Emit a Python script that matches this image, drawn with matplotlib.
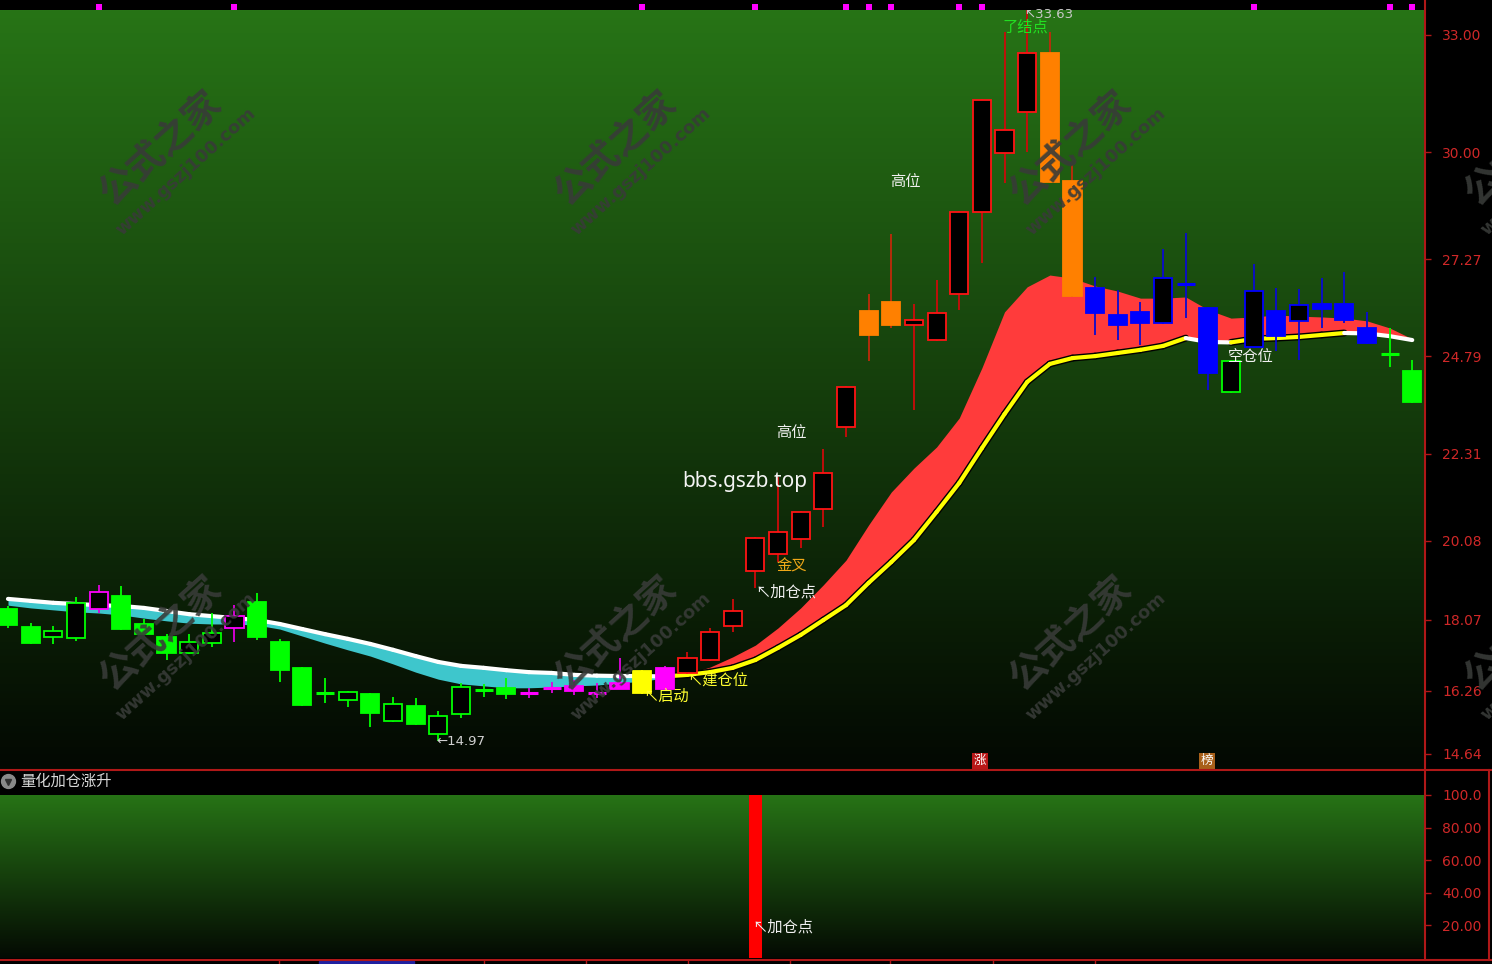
import numpy as np
import matplotlib
matplotlib.use('Agg')
import matplotlib.pyplot as plt
import matplotlib.transforms as mtransforms
from matplotlib.patches import Rectangle
from matplotlib.collections import LineCollection
from matplotlib.lines import Line2D

plt.rcParams['font.family'] = ['Noto Sans CJK SC', 'DejaVu Sans']

# daily candles (63 bars)
opens = [18.34, 17.88, 17.63, 17.60, 18.34, 18.67, 17.97, 17.63, 17.22, 17.47,
         17.86, 18.52, 17.50, 16.84, 16.20, 16.02, 16.17, 15.48, 15.87, 15.15,
         15.66, 16.27, 16.32, 16.20, 16.32, 16.38, 16.20, 16.45, 16.76, 16.84,
         16.71, 17.04, 17.91, 19.31, 19.75, 20.13, 20.90, 22.99, 25.95, 26.18,
         25.59, 25.21, 26.39, 28.48, 29.99, 31.03, 32.54, 29.27, 26.54, 25.85,
         25.93, 25.65, 26.64, 26.03, 23.88, 25.03, 25.95, 25.70, 26.13, 26.13,
         25.52, 24.85, 24.42]
highs = [18.42, 17.99, 17.91, 18.65, 18.96, 18.93, 18.09, 17.70, 17.70, 18.24,
         18.44, 18.75, 17.58, 16.86, 16.58, 16.25, 16.19, 16.10, 16.07, 15.74,
         16.45, 16.43, 16.58, 16.32, 16.48, 16.53, 16.45, 17.09, 16.78, 16.89,
         17.24, 17.86, 18.60, 20.18, 21.71, 20.84, 22.43, 24.03, 26.39, 27.92,
         26.13, 26.74, 28.50, 31.36, 33.08, 33.63, 33.08, 29.68, 26.82, 26.49,
         26.18, 27.54, 27.94, 26.05, 24.70, 27.15, 26.54, 26.51, 26.79, 26.95,
         25.93, 25.52, 24.70]
lows = [17.86, 17.45, 17.45, 17.53, 18.24, 17.80, 17.68, 17.04, 17.20, 17.37,
        17.50, 17.55, 16.48, 15.87, 15.94, 15.84, 15.33, 15.46, 15.39, 14.97,
        15.56, 16.10, 16.04, 16.07, 16.20, 16.15, 16.07, 16.30, 16.18, 16.28,
        16.69, 17.02, 17.76, 18.88, 19.54, 19.90, 20.44, 22.73, 24.68, 25.52,
        23.42, 25.19, 25.98, 27.18, 29.22, 30.01, 29.23, 26.31, 25.34, 25.21,
        25.08, 25.63, 25.77, 23.93, 23.86, 25.01, 24.93, 24.70, 25.52, 25.65,
        25.11, 24.52, 23.61]
closes = [17.93, 17.47, 17.78, 18.50, 18.78, 17.83, 17.70, 17.22, 17.50, 17.73,
          18.16, 17.63, 16.78, 15.89, 16.19, 16.22, 15.69, 15.92, 15.41, 15.61,
          16.35, 16.28, 16.17, 16.21, 16.33, 16.25, 16.21, 16.30, 16.20, 16.30,
          17.09, 17.76, 18.29, 20.16, 20.31, 20.82, 21.81, 24.01, 25.34, 25.59,
          25.72, 25.90, 28.48, 31.34, 30.57, 32.54, 29.25, 26.33, 25.90, 25.59,
          25.65, 26.79, 26.65, 24.37, 24.68, 26.46, 25.31, 26.11, 26.00, 25.72,
          25.13, 24.86, 23.63]
tones = (['down'] * 4 + ['alert'] + ['down'] * 5 + ['alert'] + ['down'] * 12 +
         ['alert'] * 5 + ['start', 'alert'] + ['up'] * 8 + ['hot'] * 2 +
         ['up'] * 6 + ['hot'] * 2 + ['weak'] * 6 + ['down'] + ['weak'] * 6 +
         ['down'] * 2)

# trend ribbon: slow line and fast line
slow_line = [18.60, 18.55, 18.50, 18.47, 18.44, 18.42, 18.37, 18.29, 18.21, 18.16,
             18.11, 18.06, 17.96, 17.83, 17.70, 17.58, 17.45, 17.30, 17.14, 16.99,
             16.89, 16.84, 16.78, 16.73, 16.71, 16.66, 16.64, 16.63, 16.63, 16.62,
             16.66, 16.73, 16.84, 17.04, 17.35, 17.68, 18.06, 18.44, 19.01, 19.54,
             20.10, 20.82, 21.56, 22.45, 23.32, 24.14, 24.60, 24.75, 24.80, 24.88,
             24.96, 25.06, 25.26, 25.16, 25.15, 25.24, 25.26, 25.29, 25.34, 25.39,
             25.38, 25.31, 25.21]
fast_line = [18.44, 18.37, 18.32, 18.27, 18.24, 18.19, 18.11, 18.04, 17.98, 17.96,
             17.96, 17.93, 17.83, 17.65, 17.47, 17.30, 17.14, 16.94, 16.73, 16.55,
             16.43, 16.38, 16.33, 16.33, 16.35, 16.38, 16.40, 16.45, 16.50, 16.58,
             16.68, 16.86, 17.12, 17.42, 17.86, 18.37, 18.96, 19.59, 20.49, 21.33,
             21.94, 22.48, 23.22, 24.50, 25.93, 26.57, 26.87, 26.79, 26.59, 26.46,
             26.28, 26.28, 26.31, 25.98, 25.77, 25.80, 25.85, 25.82, 25.80, 25.77,
             25.70, 25.52, 25.24]

price_ticks = [14.64, 16.26, 18.07, 20.08, 22.31, 24.79, 27.27, 30.00, 33.00]
signal_ticks = [20, 40, 60, 80, 100]
signal_labels = ['20.00', '40.00', '60.00', '80.00', '100.0']

# lower panel: 量化加仓涨升 signal bars
add_idx = [33]
add_val = [100]

# magenta flags along the top edge
top_marks = [4, 10, 28, 33, 37, 38, 39, 42, 43, 55, 61, 62]

tone_color = {'down': '#00ff00', 'alert': '#ff00ff', 'start': '#ffff00',
              'up': '#ff1414', 'hot': '#ff8000', 'weak': '#0000ff'}
wick_color = {'down': '#00ff00', 'alert': '#e000e0', 'start': '#ffff00',
              'up': '#cc0a0a', 'hot': '#c02a0a', 'weak': '#0a0ad0'}

W, H = 1492, 964
fig = plt.figure(figsize=(W / 100, H / 100), dpi=100, facecolor='black')


def fx(px):
    return px / W


def fy(py):
    return 1 - py / H


ax = fig.add_axes([0, fy(770), fx(1424), (770 - 10) / H])
ax2 = fig.add_axes([0, fy(958), fx(1424), (958 - 795) / H])


def gradient(a, top, bottom):
    g = np.linspace(0, 1, 256)[:, None, None]
    img = np.array(top)[None, None, :] * (1 - g) + np.array(bottom)[None, None, :] * g
    a.imshow(img / 255, extent=[0, 1, 0, 1], transform=a.transAxes,
             aspect='auto', zorder=0, interpolation='bilinear')


gradient(ax, (39, 116, 22), (3, 8, 2))
gradient(ax2, (39, 116, 22), (4, 10, 3))

n = len(opens)
x = np.arange(n)
slow = np.array(slow_line)
fast = np.array(fast_line)

# ribbon fills
ax.fill_between(x, slow, fast, where=fast <= slow, interpolate=True,
                color='#3ec6cc', lw=0, zorder=1)
ax.fill_between(x, slow, fast, where=fast >= slow, interpolate=True,
                color='#ff3b3b', lw=0, zorder=1)

pts = np.column_stack([x, slow])
segs = [pts[i:i + 2] for i in range(n - 1)]
rising = np.diff(slow) > 0
ax.add_collection(LineCollection([s for s, r in zip(segs, rising) if r],
                                 colors='black', lw=5, capstyle='round', zorder=2))
ax.add_collection(LineCollection(segs, colors=['#ffff00' if r else '#ffffff' for r in rising],
                                 lw=3, capstyle='round', zorder=2))

# candles
for i, (o, h, l, c, t) in enumerate(zip(opens, highs, lows, closes, tones)):
    col = tone_color[t]
    ax.vlines(i, l, h, color=wick_color[t], lw=1.3, zorder=3)
    if abs(c - o) < 0.03:
        ax.hlines((o + c) / 2, i - 0.4, i + 0.4, color=col, lw=2.2, zorder=4)
    else:
        face = col if c < o else 'black'
        ax.add_patch(Rectangle((i - 0.4, min(o, c)), 0.8, abs(c - o),
                               facecolor=face, edgecolor=col, lw=1.3, zorder=4))

blend = mtransforms.blended_transform_factory(ax.transData, ax.transAxes)
ax.scatter(top_marks, [1.004] * len(top_marks), marker='s', s=14, color='#ff00ff',
           transform=blend, clip_on=False, zorder=5, lw=0)

# annotations
ax.text(39.6, 29.27, '高位', color='#f0f0f0', fontsize=11, ha='center', va='center', zorder=6)
ax.text(34.57, 22.84, '高位', color='#f0f0f0', fontsize=11, ha='center', va='center', zorder=6)
ax.text(32.54, 21.61, 'bbs.gszb.top', color='#f4f4f4', fontsize=15, ha='center', va='center',
        family=['Noto Sans', 'DejaVu Sans'], zorder=6)
ax.text(34.61, 19.44, '金叉', color='#f0a818', fontsize=11, ha='center', va='center', zorder=6)
ax.text(32.98, lows[33] - 0.1, '↖加仓点', color='#f0f0f0', fontsize=11, ha='left', va='center', zorder=6)
ax.text(30.0, 16.53, '↖建仓位', color='#ffff30', fontsize=11, ha='left', va='center', zorder=6)
ax.text(28.04, lows[28] - 0.06, '↖启动', color='#ffff30', fontsize=11, ha='left', va='center', zorder=6)
ax.text(18.9, lows[19], '←%.2f' % lows[19], color='#d0d0d0', fontsize=9.5, ha='left', va='center',
        family=['DejaVu Sans'], zorder=6)
ax.text(54.88, 24.80, '空仓位', color='#f0f0f0', fontsize=11, ha='center', va='center', zorder=6)
ax.text(44.86, highs[45] - 0.1, '↖%.2f' % highs[45], color='#c8c8c8', fontsize=9.5, ha='left',
        va='center', family=['DejaVu Sans'], zorder=6)
ax.text(44.94, 33.2, '了结点', color='#22e022', fontsize=11, ha='center', va='center', zorder=6)
ax.text(42.91, 14.47, '涨', color='white', fontsize=9, ha='center', va='center', zorder=6,
        bbox=dict(boxstyle='square,pad=0.12', fc='#b81818', ec='none'))
ax.text(52.94, 14.47, '榜', color='white', fontsize=9, ha='center', va='center', zorder=6,
        bbox=dict(boxstyle='square,pad=0.12', fc='#a8601a', ec='none'))

xlim = (-0.353, 62.52)
ax.set_xlim(*xlim)
ax.set_ylim(14.231, 33.638)

# lower panel
ax2.bar(add_idx, add_val, width=0.57, color='#ff0000', zorder=3)
ax2.text(32.85, 19, '↖加仓点', color='#f0f0f0', fontsize=11, ha='left', va='center', zorder=6)
ax2.set_xlim(*xlim)
ax2.set_ylim(0, 100)

for a, ticks, labels in [(ax, price_ticks, ['%.2f' % v for v in price_ticks]),
                         (ax2, signal_ticks, signal_labels)]:
    a.set_xticks([])
    a.yaxis.tick_right()
    a.set_yticks(ticks)
    a.set_yticklabels(labels)
    a.tick_params(axis='y', color='#b01818', labelcolor='#d02828', length=5, width=1,
                  pad=8, labelsize=10, direction='out')
    for lab in a.get_yticklabels():
        lab.set_fontfamily('DejaVu Sans')
    for sp in a.spines.values():
        sp.set_visible(False)

# frame lines
line_kw = dict(color='#b01818', lw=1.5, transform=fig.transFigure)
fig.add_artist(Line2D([0, 1], [fy(770), fy(770)], **line_kw))
fig.add_artist(Line2D([0, 1], [fy(960), fy(960)], **line_kw))
fig.add_artist(Line2D([fx(1425), fx(1425)], [fy(0), fy(960)], **line_kw))
fig.add_artist(Line2D([fx(1489), fx(1489)], [fy(770), fy(960)], **line_kw))
fig.add_artist(Rectangle((fx(319), 0), fx(95), 3 / H, color='#2020a0', transform=fig.transFigure))
for bx in [279, 484, 586, 688, 790, 890, 993, 1095]:
    fig.add_artist(Line2D([fx(bx), fx(bx)], [0, 3 / H], color='#b01818', lw=1,
                          transform=fig.transFigure))

# lower panel header
fig.add_artist(Line2D([fx(8)], [fy(781)], marker='o', ms=10, color='#8a8a8a', lw=0,
                      transform=fig.transFigure))
fig.add_artist(Line2D([fx(8)], [fy(782)], marker='v', ms=4, color='#303030', lw=0,
                      transform=fig.transFigure))
fig.text(fx(20), fy(781), '量化加仓涨升', color='#d8d8d8', fontsize=11, ha='left', va='center')

# watermarks
for dx in [0, 455, 910, 1365]:
    for dy in [0, 485]:
        fig.text(fx(160 + dx), fy(148 + dy), '公式之家', rotation=42, fontsize=27,
                 fontweight='bold', color='#383b38', alpha=0.9, ha='center', va='center',
                 rotation_mode='anchor', zorder=10)
        fig.text(fx(186 + dx), fy(172 + dy), 'www.gszj100.com', rotation=42, fontsize=13,
                 fontweight='bold', color='#383b38', alpha=0.9, ha='center', va='center',
                 rotation_mode='anchor', family=['DejaVu Sans'], zorder=10)

fig.savefig('out.png', dpi=100, facecolor='black')
